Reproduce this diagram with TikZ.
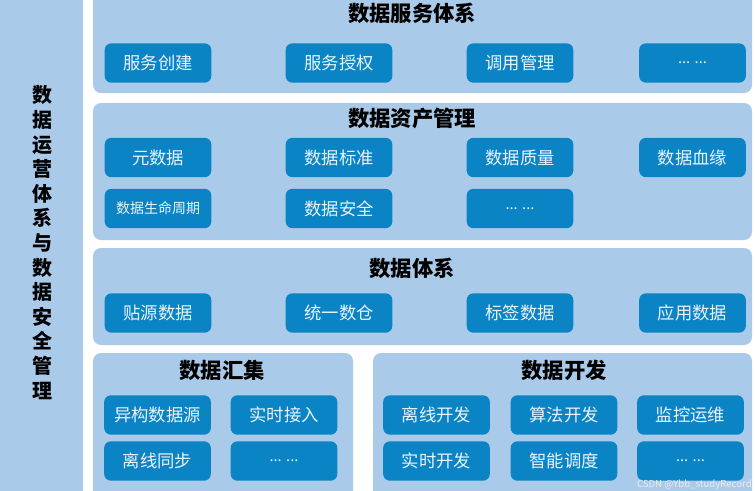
\documentclass[tikz,border=0pt]{standalone}
\usepackage{fontspec}
\setmainfont{Noto Sans CJK SC}
\definecolor{panelblue}{HTML}{AACAEA}
\definecolor{boxblue}{HTML}{0B84C6}
\definecolor{boxtext}{HTML}{EAF4FC}
\begin{document}
\begin{tikzpicture}[x=0.75pt,y=-0.75pt,
  panel/.style={fill=panelblue,draw=none,rounded corners=6pt},
  item/.style={fill=boxblue,draw=none,rounded corners=5pt,minimum width=80pt,minimum height=29.5pt,inner sep=0pt,text=boxtext,font=\fontsize{13}{15}\selectfont},
  smallitem/.style={item,font=\fontsize{10.5}{12}\selectfont},
  dots/.style={item,font=\fontsize{11}{12}\selectfont},
  ptitle/.style={font=\fontsize{16}{18}\selectfont\bfseries,text=black,inner sep=0pt}]
\useasboundingbox (0,0) rectangle (755,490);
\clip (0,0) rectangle (755,490);
\fill[white] (0,0) rectangle (755,490);
% panels
\fill[panel] (-20,-20) rectangle (83,510);
\fill[panel] (93,-20) rectangle (752,93);
\fill[panel] (93,103) rectangle (752,240);
\fill[panel] (93,248) rectangle (752,345);
\fill[panel] (93,353) rectangle (353,510);
\fill[panel] (373,353) rectangle (752,510);
% left vertical title
\node[font=\fontsize{15}{18.45}\selectfont\bfseries,align=center,inner sep=0pt] (ops) at (42,242.5)
 {数\\据\\运\\营\\体\\系\\与\\数\\据\\安\\全\\管\\理};
% panel 1
\node[ptitle] (t1) at (412,13) {数据服务体系};
\node[item] (a1) at (158,63) {服务创建};
\node[item] (a2) at (339,63) {服务授权};
\node[item] (a3) at (520,63) {调用管理};
\node[dots] (a4) at (692.5,63) {... ...};
% panel 2
\node[ptitle] (t2) at (412,118) {数据资产管理};
\node[item] (b1) at (158,157.5) {元数据};
\node[item] (b2) at (339,157.5) {数据标准};
\node[item] (b3) at (520,157.5) {数据质量};
\node[item] (b4) at (692.5,157.5) {数据血缘};
\node[smallitem] (b5) at (158,208.5) {数据生命周期};
\node[item] (b6) at (339,208.5) {数据安全};
\node[dots] (b7) at (520,208.5) {... ...};
% panel 3
\node[ptitle] (t3) at (412,268) {数据体系};
\node[item] (c1) at (158,313) {贴源数据};
\node[item] (c2) at (339,313) {统一数仓};
\node[item] (c3) at (520,313) {标签数据};
\node[item] (c4) at (692.5,313) {应用数据};
% panel 4
\node[ptitle] (t4) at (222,370) {数据汇集};
\node[item] (d1) at (157.5,415) {异构数据源};
\node[item] (d2) at (284,415) {实时接入};
\node[item] (d3) at (157.5,461) {离线同步};
\node[dots] (d4) at (284,461) {... ...};
% panel 5
\node[ptitle] (t5) at (564,370) {数据开发};
\node[item] (e1) at (436.5,415) {离线开发};
\node[item] (e2) at (564,415) {算法开发};
\node[item] (e3) at (690.5,415) {监控运维};
\node[item] (e4) at (436.5,461) {实时开发};
\node[item] (e5) at (564,461) {智能调度};
\node[dots] (e6) at (690.5,461) {... ...};
% watermark
\node[font=\fontsize{7.2}{8}\selectfont,text=white!85!gray,anchor=east,inner sep=0pt] (wm) at (752,485) {CSDN @Ybb\_studyRecord};
\end{tikzpicture}
\end{document}
